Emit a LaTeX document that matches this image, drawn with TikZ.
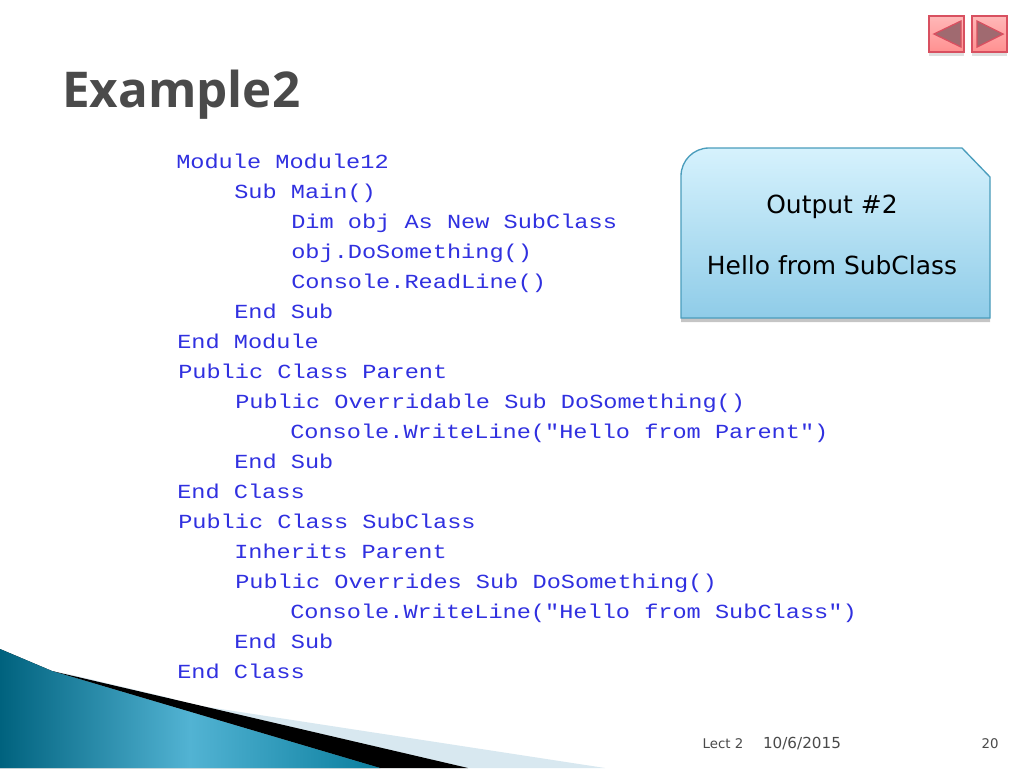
\documentclass[tikz,border=0pt]{standalone}
\usepackage{fontspec}
\setmainfont{DejaVu Sans}
\newfontfamily\codefont[FakeStretch=1.18]{Liberation Mono}
\newfontfamily\titlefont{Open Sans}
\usetikzlibrary{shadows}
\definecolor{codeblue}{HTML}{3030E0}
\definecolor{tealdark}{HTML}{00627E}
\definecolor{teallight}{HTML}{52B3D3}
\definecolor{tealmid}{HTML}{0A7E9E}
\definecolor{paleblue}{HTML}{D8E8F0}
\definecolor{calloutedge}{HTML}{4A9DBC}
\definecolor{callouttop}{HTML}{D6F2FD}
\definecolor{calloutbottom}{HTML}{8FCCE8}
\definecolor{btnedge}{HTML}{D85060}
\definecolor{btntop}{HTML}{FFB8B8}
\definecolor{btnbottom}{HTML}{FF9090}
\definecolor{btnarrow}{HTML}{A06A70}
\definecolor{titlegrey}{HTML}{4A4A4A}
\tikzset{
  codeline/.style={anchor=base west,inner sep=0pt,text=codeblue,font=\codefont\fontsize{15}{15}\selectfont},
  calloutlabel/.style={inner sep=0pt,text=black,font=\fontsize{18.7}{22}\selectfont},
  footerlabel/.style={anchor=base,inner sep=0pt,text=titlegrey,font=\fontsize{10}{12}\selectfont},
  navbutton/.style={draw=btnedge,line width=1pt,top color=btntop,bottom color=btnbottom,drop shadow={shadow xshift=0pt,shadow yshift=-3pt,opacity=.25}},
  navarrow/.style={draw=btnedge,line width=1pt,fill=btnarrow}
}
\begin{document}
\begin{tikzpicture}[x=0.75pt,y=-0.75pt]
  \useasboundingbox (0,0) rectangle (1024,768);
  \fill[white] (0,0) rectangle (1024,768);
  \fill[paleblue] (64,673) -- (170,698) -- (188,704) -- (605,768) -- (380,768) -- cycle;
  \fill[black] (52,671) -- (468,768) -- (380,768) -- cycle;
  \fill[left color=tealdark,right color=tealmid,middle color=teallight] (0,649) -- (52,671) -- (380,768) -- (0,768) -- cycle;

  \node[anchor=west,inner sep=0pt,text=titlegrey,font=\titlefont\bfseries\fontsize{37}{40}\selectfont] (title) at (62,95) {Example2};

  \foreach \row/\xpos/\ypos/\txt in {
    1/176/168/{Module Module12},
    2/234/198/{Sub Main()},
    3/291/228/{Dim obj As New SubClass},
    4/291/258/{obj.DoSomething()},
    5/291/288/{Console.ReadLine()},
    6/234/318/{End Sub},
    7/177/348/{End Module},
    8/178/378/{Public Class Parent},
    9/235/408/{Public Overridable Sub DoSomething()},
    10/290/438/{Console.WriteLine("Hello from Parent")},
    11/234/468/{End Sub},
    12/177/498/{End Class},
    13/178/528/{Public Class SubClass},
    14/234/558/{Inherits Parent},
    15/235/588/{Public Overrides Sub DoSomething()},
    16/290/618/{Console.WriteLine("Hello from SubClass")},
    17/234/648/{End Sub},
    18/177/678/{End Class}}
    \node[codeline] (code\row) at (\xpos,\ypos) {\txt};

  \draw[draw=calloutedge,line width=1pt,top color=callouttop,bottom color=calloutbottom,drop shadow={shadow xshift=0pt,shadow yshift=-3pt,opacity=.45}]
    (681,318) -- (681,176) arc[start angle=180,end angle=270,radius=28] -- (962,148) -- (990,177) -- (990,318) -- cycle;
  \node[calloutlabel] (output) at (832,207) {Output \#2};
  \node[calloutlabel] (hello) at (832,265) {Hello from SubClass};

  \draw[navbutton] (929,16) rectangle (964,52);
  \draw[navarrow] (961,21) -- (934,34) -- (961,47) -- cycle;
  \draw[navbutton] (972,16) rectangle (1007,52);
  \draw[navarrow] (977,21) -- (1003,34) -- (977,47) -- cycle;

  \node[footerlabel] (lect) at (723,748) {Lect 2};
  \node[footerlabel,font=\fontsize{11.4}{12}\selectfont] (date) at (802,748) {10/6/2015};
  \node[footerlabel] (page) at (990,748) {20};
\end{tikzpicture}
\end{document}
